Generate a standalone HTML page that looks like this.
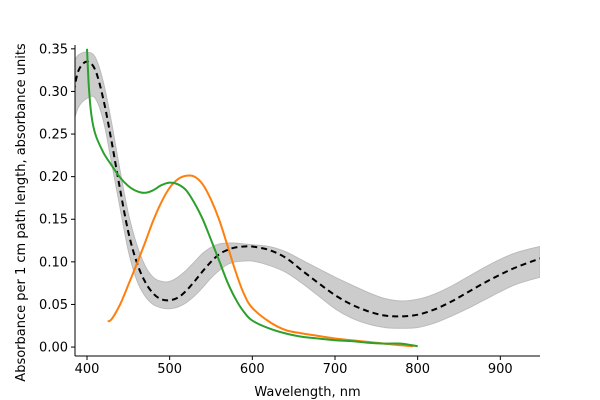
<!DOCTYPE html>
<html><head><meta charset="utf-8"><style>
html,body{margin:0;padding:0;background:#fff;}
svg{display:block;font-family:"DejaVu Sans","Liberation Sans",sans-serif;}
</style></head><body>
<svg id="chart" width="600" height="400"></svg>
<script>
const meanX=[384,390,400,410,420,430,440,450,460,470,480,490,500,510,520,530,540,550,560,570,580,590,600,620,640,660,680,700,720,740,760,780,800,820,840,860,880,900,920,948];
const meanY=[0.30,0.325,0.335,0.325,0.29,0.24,0.185,0.135,0.10,0.077,0.063,0.056,0.055,0.058,0.066,0.077,0.089,0.100,0.109,0.114,0.117,0.118,0.118,0.114,0.105,0.090,0.075,0.061,0.050,0.042,0.037,0.036,0.038,0.044,0.053,0.064,0.075,0.085,0.094,0.104];
const upperY=[0.335,0.343,0.346,0.340,0.310,0.262,0.207,0.157,0.121,0.096,0.082,0.077,0.077,0.082,0.090,0.100,0.110,0.117,0.121,0.122,0.122,0.121,0.120,0.118,0.112,0.102,0.092,0.082,0.073,0.064,0.057,0.054,0.056,0.062,0.071,0.082,0.093,0.103,0.111,0.118];
const lowerY=[0.265,0.282,0.292,0.292,0.265,0.215,0.163,0.113,0.079,0.060,0.050,0.046,0.045,0.047,0.052,0.060,0.070,0.081,0.090,0.097,0.100,0.101,0.101,0.096,0.088,0.075,0.060,0.045,0.034,0.027,0.023,0.022,0.023,0.028,0.036,0.045,0.055,0.065,0.074,0.082];
const orangeX=[425,430,440,450,460,470,480,490,500,510,520,530,540,550,560,570,580,590,600,620,640,660,680,700,720,740,760,780,795];
const orangeY=[0.030,0.033,0.050,0.073,0.097,0.122,0.148,0.170,0.187,0.197,0.201,0.200,0.191,0.173,0.149,0.119,0.088,0.062,0.046,0.030,0.020,0.016,0.013,0.010,0.008,0.006,0.004,0.002,0.001];
const greenX=[400,402,405,410,420,430,440,450,460,470,480,490,500,510,520,530,540,550,560,570,580,590,600,620,640,660,680,700,720,740,760,780,800];
const greenY=[0.35,0.31,0.275,0.25,0.228,0.213,0.199,0.189,0.183,0.181,0.184,0.190,0.193,0.191,0.184,0.169,0.150,0.126,0.101,0.076,0.056,0.041,0.031,0.022,0.016,0.012,0.010,0.008,0.007,0.005,0.004,0.004,0.001];
const xTicks=[400,500,600,700,800,900];
const yTicks=[0.00,0.05,0.10,0.15,0.20,0.25,0.30,0.35];

const L=75,R=540,T=45,B=356;
const x0=385.5,x1=948,y0=-0.0105,y1=0.3545;
const sx=v=>L+(v-x0)/(x1-x0)*(R-L);
const sy=v=>B-(v-y0)/(y1-y0)*(B-T);
const svg=document.getElementById('chart');
const NS='http://www.w3.org/2000/svg';
function mk(tag,attrs,parent){const e=document.createElementNS(NS,tag);for(const k in attrs)e.setAttribute(k,attrs[k]);(parent||svg).appendChild(e);return e;}
function pts(xs,ys){return xs.map((x,i)=>[sx(x),sy(ys[i])]);}
function smooth(p,move){let d=(move?'M':'L')+p[0][0].toFixed(1)+','+p[0][1].toFixed(1);
 for(let i=0;i<p.length-1;i++){const a=p[Math.max(i-1,0)],b=p[i],c=p[i+1],e=p[Math.min(i+2,p.length-1)];
  const c1=[b[0]+(c[0]-a[0])/6,b[1]+(c[1]-a[1])/6],c2=[c[0]-(e[0]-b[0])/6,c[1]-(e[1]-b[1])/6];
  d+='C'+c1[0].toFixed(1)+','+c1[1].toFixed(1)+' '+c2[0].toFixed(1)+','+c2[1].toFixed(1)+' '+c[0].toFixed(1)+','+c[1].toFixed(1);}
 return d;}
const defs=mk('defs',{});const cp=mk('clipPath',{id:'clip'},defs);mk('rect',{x:L,y:T,width:R-L,height:B-T},cp);
const g=mk('g',{'clip-path':'url(#clip)'});

const bandD=smooth(pts(meanX,upperY),true)+smooth(pts(meanX,lowerY).reverse(),false)+'Z';
const band=mk('path',{d:bandD,fill:'#cccccc',stroke:'#bbbbbb','stroke-width':1},g);


const mean=mk('path',{d:smooth(pts(meanX,meanY),true),fill:'none',stroke:'#000','stroke-width':2,'stroke-dasharray':'6,4'},g);


const or=mk('path',{d:smooth(pts(orangeX,orangeY),true),fill:'none',stroke:'#ff7f0e','stroke-width':2},g);


const gr=mk('path',{d:smooth(pts(greenX,greenY),true),fill:'none',stroke:'#2ca02c','stroke-width':2},g);



const ax=mk('line',{x1:L,y1:T,x2:L,y2:B,stroke:'#000','stroke-width':1});


const bx=mk('line',{x1:L,y1:B,x2:R,y2:B,stroke:'#000','stroke-width':1});


xTicks.forEach(v=>{const x=sx(v);mk('line',{x1:x,y1:B,x2:x,y2:B+4,stroke:'#000'});
 const t=mk('text',{x:x,y:B+17,'text-anchor':'middle','font-size':13});t.textContent=v;
 
 });
yTicks.forEach(v=>{const y=sy(v);mk('line',{x1:L-4,y1:y,x2:L,y2:y,stroke:'#000'});
 const t=mk('text',{x:L-7,y:y+4.5,'text-anchor':'end','font-size':13});t.textContent=v.toFixed(2);
 
 });
const xl=mk('text',{x:(L+R)/2,y:396,'text-anchor':'middle','font-size':13});xl.textContent='Wavelength, nm';


const yl=mk('text',{x:0,y:0,'text-anchor':'middle','font-size':13,transform:'translate(25,'+((T+B)/2+12)+') rotate(-90)'});yl.textContent='Absorbance per 1 cm path length, absorbance units';


</script>
</body></html>
